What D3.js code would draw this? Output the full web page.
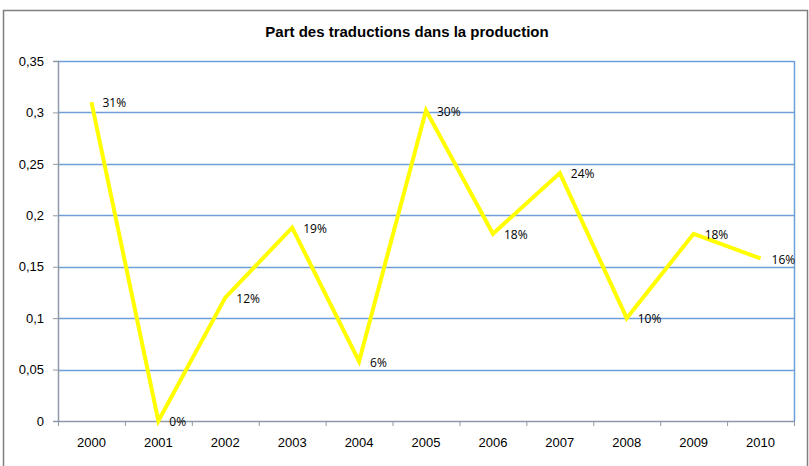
<!DOCTYPE html>
<html>
<head>
<meta charset="utf-8">
<script src="https://cdn.jsdelivr.net/npm/d3@7"></script>
<style>
  body { margin: 0; background: #fff; }
  .axis-text { font-family: "Liberation Sans Narrow", "Arial Narrow", "Liberation Sans", Arial, sans-serif; font-size: 13px; fill: #000; }
  .chart-title { font-family: "Liberation Sans Narrow", "Arial Narrow", "Liberation Sans", Arial, sans-serif; font-size: 15px; font-weight: bold; }
  .label { font-family: "Open Sans", "Noto Sans", sans-serif; font-size: 12px; fill: #000; }
</style>
</head>
<body>
<div id="chart"></div>
<script>
var years = ["2000", "2001", "2002", "2003", "2004", "2005", "2006", "2007", "2008", "2009", "2010"];
var shares = [0.31, 0, 0.12, 0.188, 0.058, 0.302, 0.182, 0.241, 0.1, 0.182, 0.158];
var yTicks = [0, 0.05, 0.1, 0.15, 0.2, 0.25, 0.3, 0.35];

var margin = {top: 61, right: 15, bottom: 45, left: 58},
    width = 809 - margin.left - margin.right,
    height = 466 - margin.top - margin.bottom;

var svg = d3.select("#chart").append("svg")
    .attr("width", 809)
    .attr("height", 466);

// outer frame
svg.append("rect")
    .attr("x", 3.5).attr("y", 10.5)
    .attr("width", 804).attr("height", 470)
    .attr("fill", "none")
    .attr("stroke", "#7f7f7f")
    .attr("stroke-width", 1.5);

var g = svg.append("g")
    .attr("transform", "translate(" + margin.left + "," + margin.top + ")");

var x = d3.scaleBand().domain(years).range([0, width]);
var y = d3.scaleLinear().domain([0, 0.35]).range([height, 0]);

var fmt = function(d) { return d === 0 ? "0" : String(d).replace(".", ","); };

// grid
g.append("g")
    .selectAll("line")
    .data(yTicks.filter(function(d) { return d > 0; }))
    .enter().append("line")
    .attr("x1", 0).attr("x2", width)
    .attr("y1", function(d) { return Math.round(y(d)) + 0.5; })
    .attr("y2", function(d) { return Math.round(y(d)) + 0.5; })
    .attr("stroke", "#6f9fd8")
    .attr("stroke-width", 1.5);

// right edge of the plot
g.append("line")
    .attr("x1", width + 0.5).attr("x2", width + 0.5)
    .attr("y1", 0).attr("y2", height)
    .attr("stroke", "#6f9fd8")
    .attr("stroke-width", 1.5);

// y axis
var yAxis = d3.axisLeft(y).tickValues(yTicks).tickSize(5).tickPadding(9).tickFormat(fmt);
var ya = g.append("g").call(yAxis);
ya.select(".domain").attr("stroke", "#8d99a6").attr("stroke-width", 1.5);
ya.selectAll(".tick line").attr("stroke", "#8d99a6");
ya.selectAll("text").attr("class", "axis-text").attr("font-family", null).attr("font-size", null);

// x axis
var xAxis = d3.axisBottom(x).tickSize(0).tickPadding(17);
var xa = g.append("g")
    .attr("transform", "translate(0," + height + ")")
    .call(xAxis);
xa.select(".domain").attr("stroke", "#8d99a6").attr("stroke-width", 1.5);
xa.selectAll("text").attr("class", "axis-text").attr("font-family", null).attr("font-size", null);

// x tick marks at band boundaries
xa.append("g")
    .selectAll("line")
    .data(years)
    .enter().append("line")
    .attr("x1", function(d) { return x(d) + 0.5; })
    .attr("x2", function(d) { return x(d) + 0.5; })
    .attr("y1", 0).attr("y2", 5)
    .attr("stroke", "#8d99a6");
xa.append("line")
    .attr("x1", width + 0.5).attr("x2", width + 0.5)
    .attr("y1", 0).attr("y2", 5)
    .attr("stroke", "#8d99a6");

// line
var line = d3.line()
    .x(function(d, i) { return x(years[i]) + x.bandwidth() / 2; })
    .y(function(d) { return y(d); });

g.append("path")
    .datum(shares)
    .attr("d", line)
    .attr("fill", "none")
    .attr("stroke", "#ffff00")
    .attr("stroke-width", 4)
    .attr("stroke-linejoin", "miter");

// value labels
g.append("g")
    .selectAll("text")
    .data(shares)
    .enter().append("text")
    .attr("class", "label")
    .attr("x", function(d, i) { return x(years[i]) + x.bandwidth() / 2 + 11; })
    .attr("y", function(d) { return y(d) + 2; })
    .attr("dominant-baseline", "middle")
    .text(function(d) { return Math.round(d * 100) + "%"; });

svg.append("text")
    .attr("class", "chart-title")
    .attr("x", 407)
    .attr("y", 37)
    .attr("text-anchor", "middle")
    .text("Part des traductions dans la production");
</script>
</body>
</html>
